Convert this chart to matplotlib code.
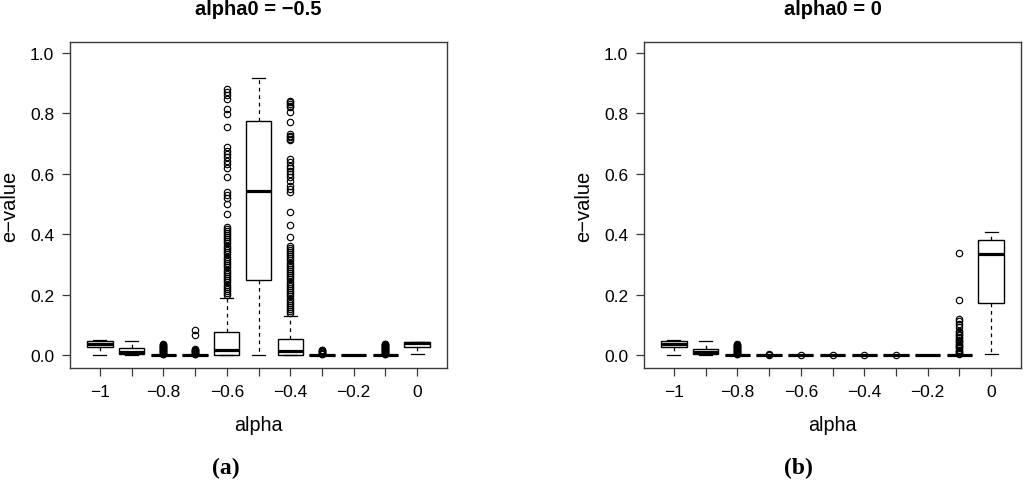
import matplotlib
matplotlib.use("Agg")
import matplotlib.pyplot as plt

plt.rcParams['font.family'] = ['Liberation Sans', 'DejaVu Sans']

# ---------------- data ----------------
alpha_values = [-1.0, -0.9, -0.8, -0.7, -0.6, -0.5, -0.4, -0.3, -0.2, -0.1, 0.0]
tick_labels = ['\u22121', '', '\u22120.8', '', '\u22120.6', '', '\u22120.4', '', '\u22120.2', '', '0']
y_ticks = [0.0, 0.2, 0.4, 0.6, 0.8, 1.0]
y_tick_labels = ['0.0', '0.2', '0.4', '0.6', '0.8', '1.0']

titles = ['alpha0 = \u22120.5', 'alpha0 = 0']
panel_tags = ['(a)', '(b)']

# panel (a): alpha0 = -0.5
a_whislo = [0.0, 0.0, 0.0, 0.0, 0.0, 0.0, 0.0, 0.0, 0.0, 0.0, 0.003]
a_q1 = [0.026, 0.003, 0.0, 0.0, 0.0, 0.249, 0.0, 0.0, 0.0, 0.0, 0.028]
a_med = [0.038, 0.011, 0.0, 0.0, 0.017, 0.544, 0.013, 0.0, 0.0, 0.0, 0.039]
a_q3 = [0.047, 0.022, 0.0, 0.0, 0.077, 0.776, 0.053, 0.0, 0.0, 0.0, 0.043]
a_whishi = [0.050, 0.046, 0.0, 0.0, 0.190, 0.917, 0.130, 0.0, 0.0, 0.0, 0.044]
a_fliers = [
    [],
    [],
    [0.002, 0.004, 0.006, 0.008, 0.010, 0.012, 0.014, 0.016, 0.018, 0.020,
     0.022, 0.024, 0.026, 0.028, 0.030, 0.032, 0.034, 0.036],
    [0.002, 0.004, 0.006, 0.008, 0.010, 0.012, 0.014, 0.016, 0.018, 0.020,
     0.066, 0.084],
    [0.881, 0.870, 0.859, 0.848, 0.815, 0.798, 0.754, 0.688, 0.676, 0.666,
     0.655, 0.643, 0.632, 0.618, 0.588, 0.541, 0.528, 0.520, 0.500, 0.467,
     0.423, 0.418, 0.412, 0.405, 0.398, 0.392, 0.385, 0.378, 0.370, 0.362,
     0.355, 0.348, 0.340, 0.333, 0.325, 0.318, 0.311, 0.304, 0.297, 0.290,
     0.283, 0.276, 0.268, 0.261, 0.254, 0.247, 0.240, 0.233, 0.226, 0.219,
     0.212, 0.205, 0.198],
    [],
    [0.842, 0.836, 0.831, 0.825, 0.820, 0.804, 0.771, 0.732, 0.726, 0.721,
     0.715, 0.710, 0.649, 0.638, 0.625, 0.618, 0.610, 0.599, 0.588, 0.577,
     0.561, 0.550, 0.539, 0.472, 0.430, 0.390, 0.362, 0.355, 0.348, 0.341,
     0.334, 0.327, 0.320, 0.313, 0.306, 0.299, 0.292, 0.285, 0.278, 0.271,
     0.264, 0.257, 0.250, 0.243, 0.236, 0.229, 0.222, 0.215, 0.208, 0.201,
     0.194, 0.187, 0.180, 0.173, 0.166, 0.159, 0.152, 0.145, 0.138],
    [0.002, 0.004, 0.006, 0.008, 0.010, 0.012, 0.014, 0.016, 0.018],
    [],
    [0.002, 0.004, 0.006, 0.008, 0.010, 0.012, 0.014, 0.016, 0.018, 0.020,
     0.022, 0.024, 0.026, 0.028, 0.030, 0.032, 0.034, 0.036, 0.038],
    [],
]

# panel (b): alpha0 = 0
b_whislo = [0.0, 0.0, 0.0, 0.0, 0.0, 0.0, 0.0, 0.0, 0.0, 0.0, 0.003]
b_q1 = [0.025, 0.002, 0.0, 0.0, 0.0, 0.0, 0.0, 0.0, 0.0, 0.0, 0.172]
b_med = [0.037, 0.010, 0.0, 0.0, 0.0, 0.0, 0.0, 0.0, 0.0, 0.0, 0.334]
b_q3 = [0.046, 0.021, 0.0, 0.0, 0.0, 0.0, 0.0, 0.0, 0.0, 0.0, 0.380]
b_whishi = [0.050, 0.047, 0.0, 0.0, 0.0, 0.0, 0.0, 0.0, 0.0, 0.0, 0.408]
b_fliers = [
    [],
    [],
    [0.002, 0.004, 0.006, 0.008, 0.010, 0.012, 0.014, 0.016, 0.018, 0.020,
     0.022, 0.024, 0.026, 0.028, 0.030, 0.032, 0.034, 0.036],
    [0.001, 0.003],
    [0.001],
    [0.001],
    [0.001],
    [0.001],
    [],
    [0.337, 0.183, 0.119, 0.111, 0.104, 0.092, 0.081, 0.075, 0.070, 0.065,
     0.060, 0.055, 0.050, 0.046, 0.042, 0.038, 0.034, 0.030, 0.026, 0.022,
     0.018, 0.014, 0.010, 0.006, 0.002],
    [],
]

panels = [
    (a_whislo, a_q1, a_med, a_q3, a_whishi, a_fliers),
    (b_whislo, b_q1, b_med, b_q3, b_whishi, b_fliers),
]

# ---------------- figure ----------------
W, H = 1024, 481
fig = plt.figure(figsize=(W / 100, H / 100), dpi=100)

frame_col = '#3a3a3a'
ax_left_px = [70, 644]
ax_w_px = 377
ax_top_px, ax_bot_px = 43, 369

for i, (wlo, q1, med, q3, whi, fl) in enumerate(panels):
    left = ax_left_px[i] / W
    bottom = 1 - ax_bot_px / H
    ax = fig.add_axes([left, bottom, ax_w_px / W, (ax_bot_px - ax_top_px) / H])
    stats = []
    for k in range(len(alpha_values)):
        stats.append(dict(whislo=wlo[k], q1=q1[k], med=med[k], q3=q3[k],
                          whishi=whi[k], fliers=fl[k]))
    positions = list(range(1, len(alpha_values) + 1))
    ax.bxp(stats, positions=positions, widths=0.8, patch_artist=True,
           boxprops=dict(facecolor='white', edgecolor='black', linewidth=1.0),
           medianprops=dict(color='black', linewidth=2.3, solid_capstyle='butt'),
           whiskerprops=dict(color='black', linewidth=0.9, linestyle=(0, (3, 3))),
           capprops=dict(color='black', linewidth=0.9),
           flierprops=dict(marker='o', markerfacecolor='none', markeredgecolor='black',
                           markersize=4.6, markeredgewidth=0.85, linestyle='none'))
    ax.set_xlim(0.06, 11.94)
    ax.set_ylim(-0.043, 1.036)
    ax.set_xticks(positions)
    ax.set_xticklabels(tick_labels)
    ax.set_yticks(y_ticks)
    ax.set_yticklabels(y_tick_labels)
    ax.tick_params(axis='both', direction='out', length=5.5, width=0.9,
                   color=frame_col, labelsize=12.5, labelcolor='black')
    ax.tick_params(axis='x', pad=6)
    ax.tick_params(axis='y', pad=6)
    for sp in ax.spines.values():
        sp.set_color(frame_col)
        sp.set_linewidth(1.0)

    cx = (ax_left_px[i] + ax_w_px / 2) / W
    fig.text(cx, 1 - 15 / H, titles[i], ha='center', va='baseline',
             fontsize=14.5, fontweight='bold')
    fig.text(cx, 1 - 430.7 / H, 'alpha', ha='center', va='baseline', fontsize=14.2)
    fig.text((ax_left_px[i] - 60) / W, 1 - 206 / H, 'e\u2212value', rotation=90,
             ha='center', va='center', fontsize=14.5)
    tag_x = [226, 798][i]
    fig.text(tag_x / W, 1 - 468 / H, panel_tags[i], ha='center', va='center',
             fontsize=17, fontweight='bold', family=['Liberation Serif', 'DejaVu Serif'])

fig.savefig('out.png', dpi=100)
